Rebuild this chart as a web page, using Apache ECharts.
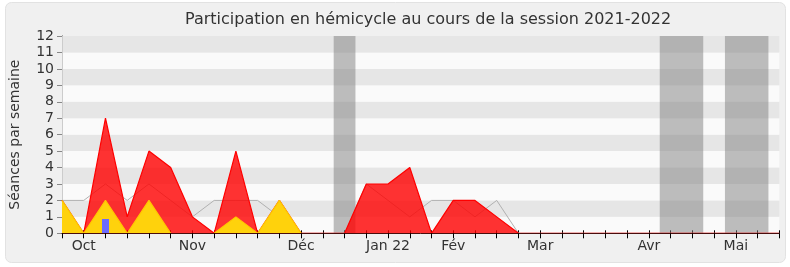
<!DOCTYPE html>
<html>
<head>
<meta charset="utf-8">
<script src="https://cdn.jsdelivr.net/npm/echarts@6/dist/echarts.min.js"></script>
<style>html,body{margin:0;padding:0;background:#fff}#c{width:790px;height:267px}</style>
</head>
<body>
<div id="c"></div>
<script>
// Weekly data, session 2021-2022 (week index 0..33)
const weekCount = 34;
const monthLabels = ["", "Oct", "", "", "", "", "Nov", "", "", "", "", "Déc", "", "", "", "Jan 22", "", "", "Fév", "", "", "", "Mar", "", "", "", "", "Avr", "", "", "", "Mai", "", ""];
const totalVals = [2, 0, 7, 1, 5, 4, 1, 0, 5, 0, 2, 0, 0, 0, 3, 3, 4, 0, 2, 2, 1, 0, 0, 0, 0, 0, 0, 0, 0, 0, 0, 0, 0, 0];
const secondVals = [2, 0, 2, 0, 2, 0, null, 0, 1, 0, 2, 0, null, null, null, null, null, null, null, null, null, null, null, null, null, null, null, null, null, null, null, null, null, null];
const medianVals = [2, 2, 3, 2, 3, 2, 1, 2, 2, 2, 1, 0, 0, 0, 3, 2, 1, 2, 2, 1, 2, 0, 0, 0, 0, 0, 0, 0, 0, 0, 0, 0, 0, 0];
const barWeeks = [2];
const barVals = [0.87];
const vacationWeeks = [[13, 13], [28, 29], [31, 32]];
const yTicks = [0, 1, 2, 3, 4, 5, 6, 7, 8, 9, 10, 11, 12];

const pairs = arr => arr.map((v, i) => [i, v]);
const FONT = 'DejaVu Sans';

const chart = echarts.init(document.getElementById('c'), null, {renderer: 'canvas'});
chart.setOption({
  animation: false,
  backgroundColor: '#ffffff',
  textStyle: {fontFamily: FONT},
  graphic: [{
    type: 'rect', z: -100, silent: true,
    shape: {x: 5.5, y: 2.5, width: 780, height: 260, r: 6},
    style: {fill: '#f0f0f0', stroke: '#e2e2e2', lineWidth: 1}
  }],
  title: {
    text: 'Participation en hémicycle au cours de la session 2021-2022',
    left: 180, top: 7,
    textStyle: {fontFamily: FONT, fontSize: 16, fontWeight: 'normal', color: '#333'}
  },
  grid: {left: 61.7, right: 10.7, top: 36, bottom: 33.7, containLabel: false},
  xAxis: [{
    type: 'value', min: 0, max: weekCount - 1, interval: 1, position: 'bottom', z: 10,
    axisLine: {show: true, onZero: false, lineStyle: {color: '#4a0c0c', width: 1}},
    axisTick: {show: true, length: 5, lineStyle: {color: '#000'}},
    axisLabel: {show: true, interval: 0, margin: 6, color: '#333', fontSize: 14, fontFamily: FONT,
      formatter: v => monthLabels[Math.round(v)] || ''},
    splitLine: {show: false}
  }, {
    type: 'value', min: 0, max: weekCount - 1, interval: 1, position: 'top',
    axisLine: {show: false},
    axisTick: {show: true, length: 3, lineStyle: {color: '#000'}},
    axisLabel: {show: false},
    splitLine: {show: false}
  }],
  yAxis: [{
    type: 'value', min: yTicks[0], max: yTicks[yTicks.length - 1], interval: 1,
    name: 'Séances par semaine', nameLocation: 'middle', nameGap: 40,
    nameTextStyle: {fontFamily: FONT, fontSize: 14, color: '#333'},
    axisLine: {show: true, lineStyle: {color: '#000'}},
    axisTick: {show: true, length: 5, lineStyle: {color: '#888'}},
    axisLabel: {color: '#333', fontSize: 14, fontFamily: FONT, margin: 8},
    splitLine: {show: false},
    splitArea: {show: true, areaStyle: {color: ['#fafafa', '#e6e6e6']}}
  }, {
    type: 'value', min: 0, max: 12, interval: 1, position: 'right',
    axisLine: {show: true, lineStyle: {color: '#cccccc'}},
    axisTick: {show: false}, axisLabel: {show: false}, splitLine: {show: false}
  }],
  series: [{
    name: 'median', type: 'line', data: pairs(medianVals), z: 2,
    symbol: 'none', lineStyle: {color: '#b0b0b0', width: 1}
  }, {
    name: 'total', type: 'line', data: pairs(totalVals), z: 3,
    symbol: 'none', lineStyle: {color: '#ff0000', width: 1.2},
    areaStyle: {color: 'rgba(255,0,0,0.8)', opacity: 1, origin: 'start'}
  }, {
    name: 'second', type: 'line', data: pairs(secondVals), z: 4,
    symbol: 'none', connectNulls: false, lineStyle: {color: '#ffc800', width: 1.2},
    areaStyle: {color: '#ffd20c', opacity: 1, origin: 'start'}
  }, {
    name: 'bar', type: 'bar', data: barWeeks.map((w, i) => [w, barVals[i]]), z: 5,
    barWidth: 7, itemStyle: {color: '#6b6bff'}
  }, {
    name: 'vacances', type: 'line', data: [], z: 6,
    markArea: {
      silent: true,
      itemStyle: {color: 'rgba(125,125,125,0.5)'},
      data: vacationWeeks.map(([a, b]) => [{xAxis: a - 0.5}, {xAxis: b + 0.5}])
    }
  }]
});
</script>
</body>
</html>
